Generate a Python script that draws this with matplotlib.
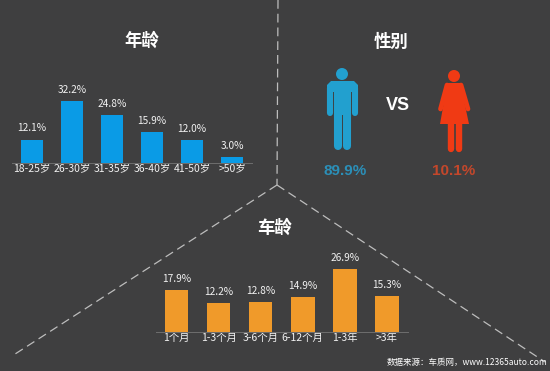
import matplotlib
matplotlib.use("Agg")
import matplotlib.pyplot as plt
from matplotlib.patches import Circle, Polygon

plt.rcParams['font.family'] = ['Noto Sans CJK SC', 'DejaVu Sans']

W, H = 550, 371
BG = "#3f3f40"

age_labels = ["18-25岁", "26-30岁", "31-35岁", "36-40岁", "41-50岁", ">50岁"]
age_values = [12.1, 32.2, 24.8, 15.9, 12.0, 3.0]
car_labels = ["1个月", "1-3个月", "3-6个月", "6-12个月", "1-3年", ">3年"]
car_values = [17.9, 12.2, 12.8, 14.9, 26.9, 15.3]
gender_labels = ["89.9%", "10.1%"]


def bar_panel(fig, left, right, base, px_per_unit, labels, values, color, width, pad):
    # axes placed in pixels, 40 units tall above the baseline
    height = 40 * px_per_unit
    ax = fig.add_axes([left / W, 1 - base / H, (right - left) / W, height / H])
    ax.patch.set_alpha(0)
    ax.bar(range(len(values)), values, width=width, color=color)
    ax.set_xlim(-0.5, len(values) - 0.5)
    ax.set_ylim(0, 40)
    for s in ["top", "left", "right"]:
        ax.spines[s].set_visible(False)
    ax.spines["bottom"].set_color("#6e6e6e")
    ax.spines["bottom"].set_linewidth(0.7)
    ax.set_yticks([])
    ax.set_xticks(range(len(values)))
    ax.set_xticklabels(labels, fontsize=7.5, color="#f2f2f2")
    ax.tick_params(axis="x", length=0, pad=pad)
    for i, v in enumerate(values):
        ax.annotate(f"{v:.1f}%", (i, v), xytext=(0, 4.5), textcoords="offset points",
                    ha="center", va="bottom", fontsize=7.3, color="#f2f2f2")
    return ax


fig = plt.figure(figsize=(W / 100, H / 100), dpi=100, facecolor=BG)

# full figure layer in pixel coordinates for dividers, icons and titles
bg = fig.add_axes([0, 0, 1, 1])
bg.set_xlim(0, W)
bg.set_ylim(H, 0)
bg.axis("off")

dash = dict(color="#bdbdbd", lw=0.9, dashes=(7, 4))
bg.plot([278, 277], [0, 185], **dash)
bg.plot([277, 12], [185, 356], **dash)
bg.plot([277, 545], [185, 362], **dash)

bar_panel(fig, 12, 252, 163, 62 / 32.2, age_labels, age_values, "#0a9be6", 0.56, 0)
bar_panel(fig, 155.5, 408, 332, 63 / 26.9, car_labels, car_values, "#f09a2a", 0.56, 1)

# titles
bg.text(142, 41, "年龄", color="white", fontsize=12.5, fontweight="bold", ha="center", va="center")
bg.text(391, 42, "性别", color="white", fontsize=12.5, fontweight="bold", ha="center", va="center")
bg.text(275, 228, "车龄", color="white", fontsize=12.5, fontweight="bold", ha="center", va="center")

# man icon
MAN = "#22a0cf"
bg.add_patch(Circle((342, 74), 6, color=MAN, lw=0))
bg.add_patch(Polygon([[331, 81], [354, 81], [358, 85], [358, 92], [351, 92], [351, 115], [334, 115],
                      [334, 92], [327, 92], [327, 85]], color=MAN, lw=0))
limb = dict(color=MAN, solid_capstyle="round")
bg.plot([330, 330], [88, 113], lw=4.4, **limb)
bg.plot([355, 355], [88, 113], lw=4.4, **limb)
bg.plot([337.8, 337.8], [105, 146], lw=5.8, **limb)
bg.plot([346.7, 346.7], [105, 146], lw=5.8, **limb)

# woman icon
WOMAN = "#f03a14"
bg.add_patch(Circle((454, 76), 6, color=WOMAN, lw=0))
bg.add_patch(Polygon([[447, 83], [461, 83], [463, 96], [469, 124], [440, 124], [445, 96]], color=WOMAN, lw=0))
limb = dict(color=WOMAN, solid_capstyle="round")
bg.plot([447, 440.5], [85, 109], lw=3.4, **limb)
bg.plot([461, 468], [85, 109], lw=3.4, **limb)
bg.plot([450.5, 450.5], [120, 149], lw=4.6, **limb)
bg.plot([459, 459], [120, 149], lw=4.6, **limb)

bg.text(398, 105, "VS", color="white", fontsize=13, fontweight="bold", ha="center", va="center",
        family="Liberation Sans")
bg.text(345, 171, gender_labels[0], color="#2b8fb8", fontsize=11, fontweight="bold", ha="center", va="center",
        family="Liberation Sans")
bg.text(454, 171, gender_labels[1], color="#c4472b", fontsize=11, fontweight="bold", ha="center", va="center",
        family="Liberation Sans")

bg.text(467, 363, "数据来源：车质网，www.12365auto.com", color="white", fontsize=6.1, ha="center", va="center")

fig.savefig("out.png", dpi=100, facecolor=BG)
